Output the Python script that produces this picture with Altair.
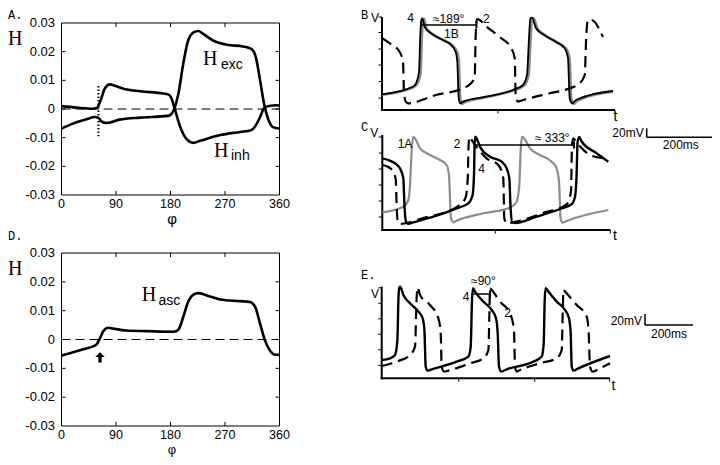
import altair as alt
import pandas as pd

SANS = "Liberation Sans"
SERIF = "Liberation Serif"
MONO = "Liberation Mono"

# ---------------- Panel A / D data (phase response curves) ----------------
phi_ticks = [0, 90, 180, 270, 360]
phi_tick_labels = ["0", "90", "180", "270", "360"]
h_ticks = [-0.03, -0.02, -0.01, 0, 0.01, 0.02, 0.03]
h_tick_labels = ["-0.03", "-0.02", "-0.01", "0", "0.01", "0.02", "0.03"]

phi_exc = [0, 19, 41, 55, 61, 66, 74, 96, 130, 176, 182, 187, 193, 201, 209, 218, 226, 234,
           251, 273, 300, 314, 321, 328, 335, 342, 350, 360]
h_exc = [-0.0068, -0.0051, -0.0036, -0.0028, -0.0031, -0.0043, -0.0049, -0.0037, -0.0030,
         -0.0024, -0.0016, 0.0005, 0.0053, 0.0157, 0.0238, 0.0267, 0.0272, 0.0262, 0.0238,
         0.0224, 0.0218, 0.0209, 0.0180, 0.0099, 0.0013, -0.0039, -0.0064, -0.0068]

phi_inh = [0, 25, 52, 59, 64.5, 72, 80, 88, 102, 130, 168, 176, 181, 187, 196, 207, 218, 229,
           262, 295, 313, 320, 328, 335, 345, 353, 360]
h_inh = [0.0010, 0.0005, 0.0001, 0.0005, 0.0030, 0.0073, 0.0086, 0.0081, 0.0071, 0.0062,
         0.0054, 0.0051, 0.0040, 0.0001, -0.0062, -0.0106, -0.0118, -0.0111, -0.0091,
         -0.0080, -0.0074, -0.0060, -0.0028, 0.0005, 0.0011, 0.0013, 0.0012]

phi_asc = [0, 19, 36, 52, 58, 63, 69, 77, 85, 107, 141, 185, 193, 201, 209, 218, 226, 240,
           262, 295, 311, 320, 328, 336, 345, 353, 360]
h_asc = [-0.0056, -0.0044, -0.0034, -0.0024, -0.0017, 0.0002, 0.0029, 0.0041, 0.0038,
         0.0031, 0.0029, 0.0027, 0.0034, 0.0078, 0.0130, 0.0156, 0.0161, 0.0153, 0.0139,
         0.0133, 0.0130, 0.0112, 0.0054, -0.0003, -0.0041, -0.0053, -0.0053]

dot_phi = [61]
dot_h = [0.008]
dot_h2 = [-0.0095]
arrow_phi = [63.6]
arrow_h = [-0.0062]

# ---------------- Panel B traces ----------------
b_black_t = [0, 31, 34, 37, 38.3, 39.3, 40.3, 42.7, 49, 61, 69, 73.7, 75.3, 76.7, 78.3, 81, 104,
             131, 141, 145, 147, 148.3, 150, 154, 161, 174, 182.7, 186, 187.7, 190, 194, 231]
b_black_v = [15.7, 23.3, 26.7, 38, 75, 90, 91.7, 83, 76.7, 70, 65, 58, 48, 11.7, 6.7, 8.3, 13.3,
             20, 25, 35, 71.7, 91.7, 92.3, 81.7, 75.7, 68, 61.7, 51.7, 11.7, 6.7, 10, 19]
b_grey_t = [0, 31, 35, 38.5, 39.8, 40.8, 42, 44, 50, 62, 70.5, 75.2, 76.8, 78.2, 79.8, 82.5, 104,
            131, 142, 146.5, 148.5, 149.8, 151.5, 155.5, 162.5, 175.5, 184.2, 187.5, 189.2,
            191.5, 195.5, 231]
b_grey_v = [15.3, 22.8, 26, 37, 74, 89.5, 91.2, 82.5, 76.2, 69.5, 64.5, 57.5, 47.5, 11.2, 6.2,
            7.8, 12.8, 19.5, 24.5, 34.5, 71, 91.2, 91.8, 81.2, 75.2, 67.5, 61.2, 51.2, 11.2,
            6.2, 9.5, 18.5]
b_dash_t = [0, 7.7, 17.7, 21, 22, 23.7, 26, 54, 81, 89, 92.7, 93.7, 95, 97.7, 102.7, 117.7,
            129.3, 132.7, 133.7, 136, 139, 167.7, 187.7, 197.7, 202.7, 204.3, 206, 209.3, 221]
b_dash_v = [71.7, 66.7, 58, 48, 18, 8.3, 6.7, 15, 21.7, 26.7, 33, 75, 91, 90, 85, 73, 61.7,
            51.7, 15, 8.3, 9.3, 16.7, 21.7, 26.7, 35, 75, 90, 90, 73]

# ---------------- Panel C traces ----------------
c_grey_t = [0, 21, 26, 27.7, 29.3, 31, 32.7, 37.7, 47.7, 57.7, 64.3, 66.7, 68.7, 71, 74.3, 101,
            127.7, 134.3, 137, 138.3, 139.7, 141.7, 147.7, 157.7, 169.3, 174.3, 176.7, 178.3,
            180.3, 184.3, 226]
c_grey_v = [17.7, 23.3, 30, 45, 78.3, 93.3, 91.7, 81.7, 75, 70, 65, 55, 11.7, 7.7, 9.3, 16.7,
            22.3, 28.3, 45, 78.3, 93.3, 91.7, 81.7, 75, 68.3, 61.7, 48.3, 11.7, 7.3, 9, 20]
c_black_t = [0, 6, 12.7, 17.7, 21, 22.3, 23.7, 26, 31, 54.3, 74.3, 86, 90.3, 91.7, 92.3, 93,
             94.3, 97.7, 107.7, 119.3, 124.3, 127, 128.3, 129.7, 132.7, 154.3, 177.7, 189.3,
             192.7, 194.3, 195.3, 197, 199, 214.3, 226]
c_black_v = [71.7, 70, 66.7, 61.7, 51.7, 21.7, 8.3, 6.3, 7.7, 14.3, 21.7, 26.7, 35, 55, 85,
             93.3, 91.7, 83.3, 73.3, 68.3, 61.7, 51.7, 21.7, 8.3, 7, 13.3, 21, 25.7, 33.3, 55,
             88, 93, 89, 76.7, 68.3]
c_dash_t = [0, 6, 11, 13.5, 14.3, 15.5, 17.7, 40, 75, 83, 85.3, 86.3, 87, 89.3, 95, 104.3, 116,
            121, 122, 124.3, 134, 160, 184.3, 188.7, 189.7, 191, 194, 207.7, 221]
c_dash_v = [65, 63, 58, 50, 25, 8, 6, 11.7, 23.3, 31.7, 48.3, 85, 93.3, 90, 82, 71.7, 65, 51.7,
            11.7, 6.7, 8.3, 16.7, 25.7, 38.3, 85, 91.7, 88, 75, 71.7]

# ---------------- Panel E traces ----------------
e_black_t = [0, 8.3, 13.3, 15.7, 16.7, 17.7, 18.5, 21.7, 28.3, 36.7, 41, 42.7, 44, 45.7, 50,
             75, 86.7, 89, 90.3, 91.3, 93.3, 101.7, 110, 114.3, 116, 117.3, 119.3, 125, 151.7,
             160, 162, 163, 164, 166.7, 175, 183.3, 187.3, 189, 190, 191.7, 196.7, 228.3]
e_black_v = [18.3, 20, 23.3, 38.3, 78.3, 91, 91.7, 83.3, 75, 66.7, 60, 48.3, 11.7, 7.7, 9,
             16.7, 21.7, 31.7, 78.3, 90, 86.7, 76.7, 68.3, 60, 45, 11.7, 6.7, 9, 16.7, 21.7,
             35, 78.3, 90, 86.7, 76.7, 68.3, 60, 45, 11.7, 7.7, 10, 22.3]
e_dash_t = [0, 15, 28.3, 33.3, 35, 36, 38.3, 48.3, 56.7, 59, 60, 62.3, 66.7, 88.3, 101.7,
            106.7, 107.7, 108.3, 110, 118.3, 128.3, 132.3, 133.3, 135, 138.3, 158.3, 175, 180,
            181, 181.7, 183.3, 195, 205, 207, 208.3, 211, 218.3, 228.3]
e_dash_v = [12.3, 16.7, 23.3, 31.7, 81.7, 91, 83.3, 73.3, 60, 45, 11.7, 6.7, 7.7, 15, 20,
            28.3, 65, 90, 88.3, 76.7, 65, 48.3, 11.7, 6.7, 8.3, 15, 20, 28.3, 65, 88.3, 86.7,
            73.3, 61.7, 45, 11.7, 6.7, 10, 15]

# phase-lag annotation lines (start t, end t, level)
b_lag = [39.4, 94.4, 85]
c_lag = [92.7, 191.7, 85]
e_lag = [91.7, 108.3, 84.3]


# ---------------- helpers ----------------
def pix_text(s, x, y, font, size, align="left", baseline="alphabetic"):
    return alt.Chart(pd.DataFrame({"s": [s]})).mark_text(
        font=font, fontSize=size, align=align, baseline=baseline, color="black"
    ).encode(x=alt.value(x), y=alt.value(y), text="s:N")


def h_panel(xr, yr, curves, labels, letter_y, title_y, phi_y, phi_size, letter, extra=None):
    X = lambda: alt.X("phi:Q", scale=alt.Scale(domain=[0, 360], range=xr, nice=False, zero=False), axis=None)
    Y = lambda: alt.Y("h:Q", scale=alt.Scale(domain=[-0.03, 0.03], range=yr, nice=False, zero=False), axis=None)
    layers = []
    frame = pd.DataFrame({"phi": [0], "phi2": [360], "h": [-0.03], "h2": [0.03]})
    layers.append(alt.Chart(frame).mark_rect(fillOpacity=0, stroke="black", strokeWidth=1).encode(
        x=X(), x2="phi2:Q", y=Y(), y2="h2:Q"))
    layers.append(alt.Chart(pd.DataFrame({"phi": [0], "phi2": [360], "h": [0.0]})).mark_rule(
        color="black", strokeWidth=1.1, strokeDash=[9, 5]).encode(x=X(), x2="phi2:Q", y=Y()))
    tk_y = 0.0014
    tk_x = 6.6
    inner_phi = phi_ticks[1:-1]
    inner_h = h_ticks[1:-1]
    vt = pd.DataFrame({"phi": inner_phi * 2,
                       "h": [-0.03] * len(inner_phi) + [0.03] * len(inner_phi),
                       "h2": [-0.03 + tk_y] * len(inner_phi) + [0.03 - tk_y] * len(inner_phi)})
    ht = pd.DataFrame({"h": inner_h * 2,
                       "phi": [0] * len(inner_h) + [360] * len(inner_h),
                       "phi2": [tk_x] * len(inner_h) + [360 - tk_x] * len(inner_h)})
    layers.append(alt.Chart(vt).mark_rule(color="black", strokeWidth=1).encode(x=X(), y=Y(), y2="h2:Q"))
    layers.append(alt.Chart(ht).mark_rule(color="black", strokeWidth=1).encode(x=X(), x2="phi2:Q", y=Y()))
    xl = pd.DataFrame({"phi": phi_ticks, "h": [-0.03] * len(phi_ticks), "s": phi_tick_labels})
    layers.append(alt.Chart(xl).mark_text(font=SANS, fontSize=12.5, baseline="top", dy=2.5,
                                          align="center", color="black").encode(x=X(), y=Y(), text="s:N"))
    yl = pd.DataFrame({"phi": [0] * len(h_ticks), "h": h_ticks, "s": h_tick_labels})
    layers.append(alt.Chart(yl).mark_text(font=SANS, fontSize=13, baseline="middle", dx=-6.5,
                                          align="right", color="black").encode(x=X(), y=Y(), text="s:N"))
    if extra is not None:
        layers.extend(extra(X, Y))
    for phis, hs in curves:
        df = pd.DataFrame({"phi": phis, "h": hs})
        layers.append(alt.Chart(df).mark_line(
            color="black", strokeWidth=2.6, interpolate="monotone").encode(x=X(), y=Y()))
    for (p, hv, s, font, size) in labels:
        df = pd.DataFrame({"phi": [p], "h": [hv], "s": [s]})
        layers.append(alt.Chart(df).mark_text(
            font=font, fontSize=size, align="left", baseline="alphabetic", color="black"
        ).encode(x=X(), y=Y(), text="s:N"))
    layers.append(pix_text(letter, 0, letter_y, MONO, 12))
    layers.append(pix_text("H", 0, title_y, SERIF, 20))
    layers.append(pix_text("φ", (xr[0] + xr[1]) / 2 + 1.5, phi_y, SANS, phi_size, align="center"))
    return alt.layer(*layers)


def trace_panel(xr, yr, w, h, xt, yt, traces, lag, texts, letter, letter_pos, vpos, tpos, bar=None):
    X = lambda: alt.X("t:Q", scale=alt.Scale(domain=[0, w], range=xr, nice=False, zero=False), axis=None)
    Y = lambda: alt.Y("v:Q", scale=alt.Scale(domain=[0, h], range=yr, nice=False, zero=False), axis=None)
    layers = []
    layers.append(alt.Chart(pd.DataFrame({"t": [-1], "t2": [w], "v": [0]})).mark_rule(
        color="black", strokeWidth=2).encode(x=X(), x2="t2:Q", y=Y()))
    layers.append(alt.Chart(pd.DataFrame({"t": [0], "v": [-1], "v2": [h]})).mark_rule(
        color="black", strokeWidth=2).encode(x=X(), y=Y(), y2="v2:Q"))
    layers.append(alt.Chart(pd.DataFrame({"t": [-3.5] * len(yt), "t2": [0] * len(yt), "v": yt})).mark_rule(
        color="black", strokeWidth=1).encode(x=X(), x2="t2:Q", y=Y()))
    layers.append(alt.Chart(pd.DataFrame({"t": xt, "v": [-3.5] * len(xt), "v2": [0] * len(xt)})).mark_rule(
        color="black", strokeWidth=1).encode(x=X(), y=Y(), y2="v2:Q"))
    for (ts, vs, color, sw, dash) in traces:
        df = pd.DataFrame({"t": ts, "v": vs})
        kw = dict(color=color, strokeWidth=sw, interpolate="monotone")
        if dash:
            kw["strokeDash"] = [11, 6]
        layers.append(alt.Chart(df).mark_line(**kw).encode(x=X(), y=Y()))
    t0, t1, lv = lag
    layers.append(alt.Chart(pd.DataFrame({"t": [t0], "t2": [t1], "v": [lv]})).mark_rule(
        color="black", strokeWidth=1.5).encode(x=X(), x2="t2:Q", y=Y()))
    layers.append(alt.Chart(pd.DataFrame({"t": [t1], "v": [lv - 3.5], "v2": [lv + 3.5]})).mark_rule(
        color="black", strokeWidth=2).encode(x=X(), y=Y(), y2="v2:Q"))
    for (tt, vv, s, al) in texts:
        df = pd.DataFrame({"t": [tt], "v": [vv], "s": [s]})
        layers.append(alt.Chart(df).mark_text(
            font=SANS, fontSize=12, align=al, baseline="alphabetic", color="black"
        ).encode(x=X(), y=Y(), text="s:N"))
    if bar is not None:
        bt, bv, bv2, bt2, lab_v, lab_ms = bar
        layers.append(alt.Chart(pd.DataFrame({"t": [bt], "v": [bv], "v2": [bv2]})).mark_rule(
            color="black", strokeWidth=1.5).encode(x=X(), y=Y(), y2="v2:Q"))
        layers.append(alt.Chart(pd.DataFrame({"t": [bt], "t2": [bt2], "v": [bv]})).mark_rule(
            color="black", strokeWidth=1.5).encode(x=X(), x2="t2:Q", y=Y()))
        for (tt, vv, s, al) in [(bt - 3, lab_v, "20mV", "right"),
                                ((bt + bt2) / 2, lab_ms, "200ms", "center")]:
            df = pd.DataFrame({"t": [tt], "v": [vv], "s": [s]})
            layers.append(alt.Chart(df).mark_text(
                font=SANS, fontSize=12, align=al, baseline="alphabetic", color="black"
            ).encode(x=X(), y=Y(), text="s:N"))
    layers.append(pix_text(letter, letter_pos[0], letter_pos[1], MONO, 12))
    layers.append(pix_text("V", vpos[0], vpos[1], SANS, 12, align="center"))
    layers.append(pix_text("t", tpos[0], tpos[1], SANS, 14, align="center"))
    return alt.layer(*layers)


def dotted(X, Y):
    return [alt.Chart(pd.DataFrame({"phi": dot_phi, "h": dot_h, "h2": dot_h2})).mark_rule(
        color="black", strokeWidth=2, strokeDash=[1.5, 2]).encode(x=X(), y=Y(), y2="h2:Q")]


def arrow(X, Y):
    return [alt.Chart(pd.DataFrame({"phi": arrow_phi, "h": arrow_h})).mark_point(
        shape="M0,-1L0.9,-0.05L0.32,-0.05L0.32,1L-0.32,1L-0.32,-0.05L-0.9,-0.05Z",
        size=110, filled=True, color="black", opacity=1).encode(x=X(), y=Y())]


# ---------------- build panels (pixel ranges in chart coordinates) ----------------
A = h_panel([53.5, 271.5], [187, 15],
            [(phi_exc, h_exc), (phi_inh, h_inh)],
            [(233.7, 0.0153, "H", SERIF, 20), (263.4, 0.0141, "exc", SANS, 14),
             (251.8, -0.0167, "H", SERIF, 20), (279.9, -0.0178, "inh", SANS, 14)],
            11, 36.5, 215.5, 15, "A.", extra=dotted)

D = h_panel([53.5, 271.5], [418, 245],
            [(phi_asc, h_asc)],
            [(132.4, 0.0132, "H", SERIF, 20), (160.2, 0.0121, "asc", SANS, 14)],
            232, 267, 445.5, 13, "D.", extra=arrow)

B = trace_panel([374, 607], [102, 9], 233, 93, [116, 233], [12, 28.5, 45, 61, 77.5, 93],
                [(b_grey_t, b_grey_v, "#8c8c8c", 2.8, False),
                 (b_black_t, b_black_v, "black", 1.8, False),
                 (b_dash_t, b_dash_v, "black", 2.2, True)],
                b_lag,
                [(32, 88, "4", "right"), (66.7, 87.5, "≈189°", "center"),
                 (69.3, 71.7, "1B", "center"), (101, 86.7, "2", "left")],
                "B", (353, 11), (367, 14), (607.5, 113))

C = trace_panel([374.3, 602.3], [222, 127], 228, 95, [113, 228], [13, 29, 45, 61, 77, 93],
                [(c_grey_t, c_grey_v, "#8c8c8c", 2.2, False),
                 (c_black_t, c_black_v, "black", 2.4, False),
                 (c_dash_t, c_dash_v, "black", 2.2, True)],
                c_lag,
                [(22.7, 82.3, "1A", "center"), (74.7, 81.7, "2", "center"),
                 (99.3, 57.3, "4", "center"), (170, 87.7, "≈ 333°", "center")],
                "C", (353, 123), (366.3, 129), (607, 232),
                bar=(264.4, 92.7, 101.7, 332.7, 93.5, 81.5))

E = trace_panel([373.7, 601.7], [370.3, 278.6], 228, 91.7, [77, 153, 228],
                [13, 28.5, 44, 59.5, 75, 90.5],
                [(e_black_t, e_black_v, "black", 2.4, False),
                 (e_dash_t, e_dash_v, "black", 2.2, True)],
                e_lag,
                [(101.7, 93.3, "≈90°", "center"), (84.3, 77.3, "4", "center"),
                 (126, 61.7, "2", "center")],
                "E.", (353, 271), (367, 290), (605.5, 382),
                bar=(263.3, 53.3, 64.3, 311.3, 53.8, 40.3))

chart = alt.layer(A, D, B, C, E).resolve_scale(
    x="independent", y="independent"
).properties(
    width=704, height=449, padding=0, background="white",
    autosize=alt.AutoSizeParams(type="none")
).configure_view(stroke=None)

chart.save("out.html", embed_options={"renderer": "svg", "actions": False})
